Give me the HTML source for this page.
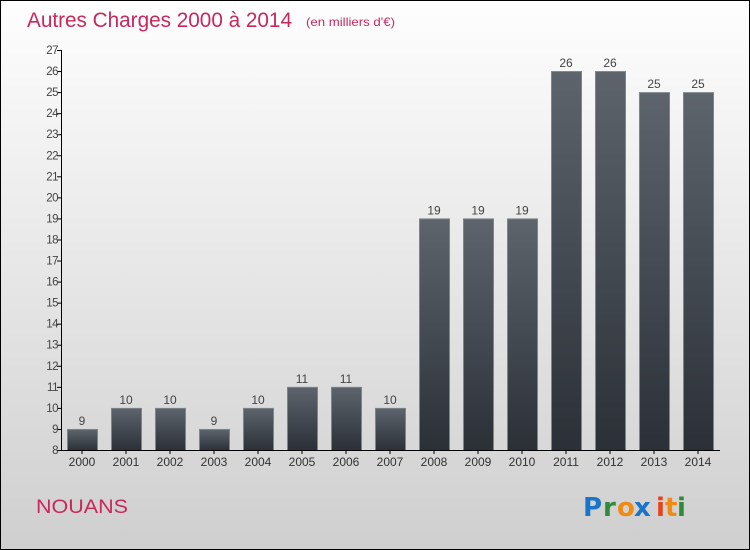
<!DOCTYPE html>
<html><head><meta charset="utf-8"><style>
body{margin:0;}
#c{width:750px;height:550px;position:relative;box-sizing:border-box;border:1px solid #000;background:linear-gradient(#fefefe,#cfcfcf);font-family:"Liberation Sans","DejaVu Sans",sans-serif;overflow:hidden}
</style></head><body>
<div id="c">
<svg width="750" height="550" style="position:absolute;left:-1px;top:-1px" id="svg">
<defs><linearGradient id="g" x1="0" y1="0" x2="0" y2="1"><stop offset="0" stop-color="#5d646c"/><stop offset="1" stop-color="#2b3037"/></linearGradient></defs>
<text x="27" y="27" font-size="21" fill="#c8285a" textLength="265" lengthAdjust="spacingAndGlyphs">Autres Charges 2000 à 2014</text>
<text x="306" y="26" font-size="12" fill="#c8285a" textLength="89" lengthAdjust="spacingAndGlyphs">(en milliers d'€)</text>
<text x="36" y="513" font-size="19" fill="#c8285a" textLength="92" lengthAdjust="spacingAndGlyphs">NOUANS</text>
<g font-family="'DejaVu Sans',sans-serif" font-size="26" font-weight="bold">
<text x="583" y="516" fill="#1a74c8">P</text><text x="603" y="516" fill="#2e8b3a">r</text><text x="617" y="516" fill="#f08a12">o</text><text x="634" y="516" fill="#1a74c8">x</text><text x="656" y="516" fill="#e8421c">i</text><text x="665" y="516" fill="#f08a12">t</text><text x="677" y="516" fill="#2e8b3a">i</text>
</g>
<g id="plot"></g>
</svg>
</div>
<script>
const years=["2000","2001","2002","2003","2004","2005","2006","2007","2008","2009","2010","2011","2012","2013","2014"];
const values=[9,10,10,9,10,11,11,10,19,19,19,26,26,25,25];
const yTicks=[8,9,10,11,12,13,14,15,16,17,18,19,20,21,22,23,24,25,26,27];
const NS="http://www.w3.org/2000/svg";
const plot=document.getElementById('plot');
const y=v=>450-(v-8)*(400/19);
const x=i=>67+i*44;
function mk(t,a){const e=document.createElementNS(NS,t);for(const k in a)e.setAttribute(k,a[k]);plot.appendChild(e);return e;}
years.forEach((yr,i)=>{
 const r=mk('rect',{x:x(i)+0.5,y:y(values[i])+0.5,width:30,height:450-y(values[i]),fill:'url(#g)',stroke:'#7d848b','stroke-width':1});
 
 
 const l=mk('text',{x:x(i)+15,y:y(values[i])-4,'text-anchor':'middle','font-size':12,fill:'#444'});
 l.textContent=values[i];
 
 
 const tl=mk('text',{x:x(i)+15,y:466,'text-anchor':'middle','font-size':12,fill:'#333'});
 tl.textContent=yr;
 
 
 const tk=mk('line',{x1:x(i)+15,x2:x(i)+15,y1:450,y2:454,stroke:'#000'});
 
 
});
yTicks.forEach(v=>{
 const t=mk('line',{x1:57,x2:61,y1:y(v)+0.5,y2:y(v)+0.5,stroke:'#000'});
 
 
 const l=mk('text',{x:58,y:y(v)+4,'text-anchor':'end','font-size':11.5,fill:'#444','letter-spacing':'-0.5'});
 l.textContent=v;
 
 
});
const ya=mk('line',{x1:61.5,x2:61.5,y1:y(27),y2:450,stroke:'#000'});


const xa=mk('line',{x1:61,x2:720,y1:450.5,y2:450.5,stroke:'#000'});


</script>
</body></html>
